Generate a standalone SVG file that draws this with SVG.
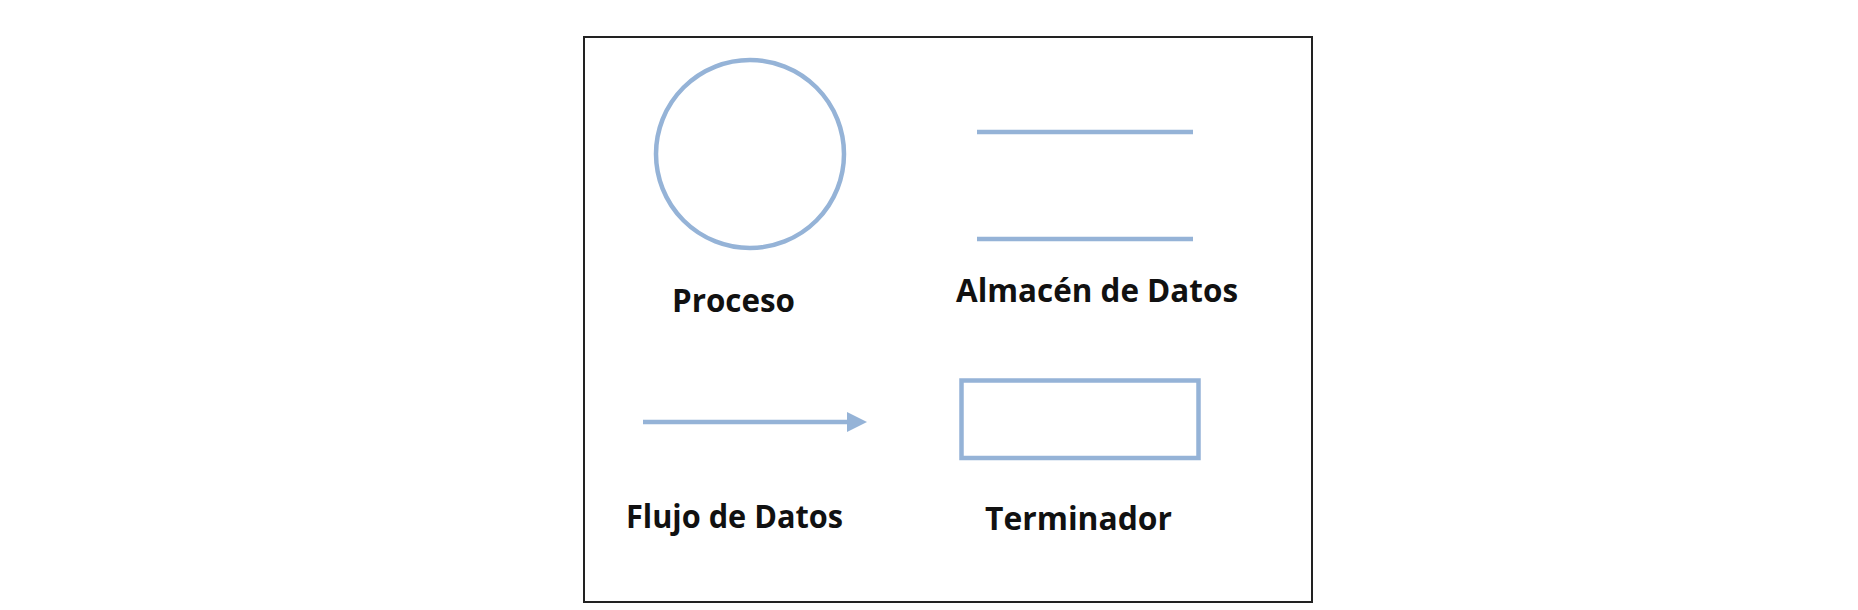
<svg xmlns="http://www.w3.org/2000/svg" width="1858" height="610" viewBox="0 0 1858 610">
  <defs>
    <style>
      .shape { fill: none; stroke: #95B3D7; stroke-width: 4.5; }
      .label { font-family: "Open Sans", "Noto Sans", "Liberation Sans", sans-serif; font-weight: bold; font-size: 33px; fill: #111111; }
    </style>
    <marker id="arrow" markerUnits="userSpaceOnUse" markerWidth="22" markerHeight="22" refX="2" refY="10" orient="auto">
      <path d="M0,0 L20,10 L0,20 Z" fill="#95B3D7"/>
    </marker>
  </defs>
  <rect x="0" y="0" width="1858" height="610" fill="#ffffff"/>
  <rect x="584" y="37" width="728" height="565" fill="none" stroke="#222222" stroke-width="2"/>
  <g id="proceso">
    <circle class="shape" cx="750" cy="154" r="94"/>
    <text class="label" x="672" y="312" textLength="123" lengthAdjust="spacingAndGlyphs">Proceso</text>
  </g>
  <g id="almacen">
    <line class="shape" x1="977" y1="132" x2="1193" y2="132"/>
    <line class="shape" x1="977" y1="239" x2="1193" y2="239"/>
    <text class="label" x="956" y="302" textLength="282" lengthAdjust="spacingAndGlyphs">Almacén de Datos</text>
  </g>
  <g id="terminador">
    <rect class="shape" x="961.5" y="380.5" width="237" height="77.5"/>
    <text class="label" x="985" y="530" textLength="187" lengthAdjust="spacingAndGlyphs">Terminador</text>
  </g>
  <g id="connectors">
    <line class="shape" x1="643" y1="422" x2="849" y2="422" marker-end="url(#arrow)"/>
    <text class="label" x="626" y="528" textLength="217" lengthAdjust="spacingAndGlyphs">Flujo de Datos</text>
  </g>
</svg>
